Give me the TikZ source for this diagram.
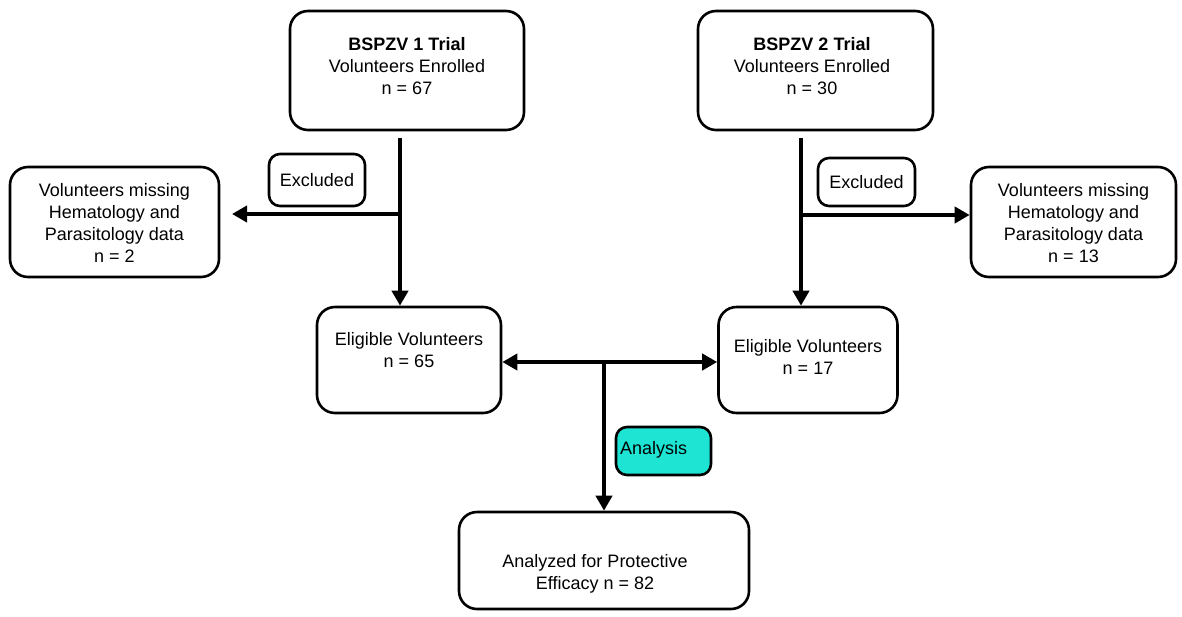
\documentclass[tikz,border=0pt]{standalone}
\usepackage{fontspec}
\setmainfont{Liberation Sans}
\usetikzlibrary{arrows.meta}
\definecolor{anacyan}{RGB}{30,228,212}
\begin{document}
\begin{tikzpicture}[x=1pt,y=-1pt,
  box/.style={draw, line width=2.6pt, rounded corners=18pt, inner sep=0pt},
  smallbox/.style={draw, line width=2.6pt, rounded corners=11pt, inner sep=0pt, font=\fontsize{18}{22}\selectfont},
  txt/.style={font=\fontsize{18}{22}\selectfont, align=center, inner sep=0pt},
  flow/.style={line width=4pt, -{Triangle[length=15pt,width=16pt]}},
  bar/.style={line width=4pt},
  dflow/.style={line width=4pt, {Triangle[length=15pt,width=16pt]}-{Triangle[length=15pt,width=16pt]}}]
\useasboundingbox (0,0) rectangle (1182,616);

% boxes
\node[box, minimum width=234pt, minimum height=119pt] (t1) at (407,70.5) {};
\node[box, minimum width=235pt, minimum height=119pt] (t2) at (815.5,70.5) {};
\node[box, minimum width=209pt, minimum height=110pt] (x1) at (114.5,222) {};
\node[box, minimum width=205pt, minimum height=110pt] (x2) at (1073.5,222) {};
\node[box, minimum width=184pt, minimum height=106pt] (e1) at (409,360) {};
\node[box, minimum width=179pt, minimum height=106pt] (e2) at (808,360) {};
\node[box, minimum width=290pt, minimum height=97pt] (f) at (604,560.5) {};

% texts
\node[txt] (t1t) at (407,66) {\textbf{BSPZV 1 Trial}\\Volunteers Enrolled\\n = 67};
\node[txt] (t2t) at (812,66) {\textbf{BSPZV 2 Trial}\\Volunteers Enrolled\\n = 30};
\node[txt] (x1t) at (114.5,223) {Volunteers missing\\Hematology and\\Parasitology data\\n = 2};
\node[txt] (x2t) at (1073.5,223) {Volunteers missing\\Hematology and\\Parasitology data\\n = 13};
\node[txt] (e1t) at (409,350) {Eligible Volunteers\\n = 65};
\node[txt] (e2t) at (808,357) {Eligible Volunteers\\n = 17};
\node[txt] (ft) at (595,574) {Analyzed for Protective\\Efficacy n = 82};

% label boxes
\node[smallbox, minimum width=96pt, minimum height=52pt] (ex1) at (317,180) {Excluded};
\node[smallbox, minimum width=97pt, minimum height=48pt] (ex2) at (866.5,182) {Excluded};
\node[smallbox, fill=anacyan, minimum width=95pt, minimum height=48pt] (an) at (663.5,451) {};
\node[txt, anchor=west] (ant) at (620,450) {Analysis};

% junctions
\coordinate (j1) at (400,214);
\coordinate (j2) at (801,215);
\coordinate (x1end) at (232,214);
\coordinate (m) at (604,362);

% connectors
\draw[flow, shorten <=7pt] (t1.south -| j1) -- (e1.north -| j1);
\draw[flow] (j1) -- (x1end);
\draw[flow, shorten <=7pt] (t2.south -| j2) -- (e2.north -| j2);
\draw[flow] (j2) -- (x2.west |- j2);
\draw[dflow] (e1.east |- m) -- (e2.west |- m);
\draw[flow] (m) -- (f.north -| m);
\end{tikzpicture}
\end{document}
